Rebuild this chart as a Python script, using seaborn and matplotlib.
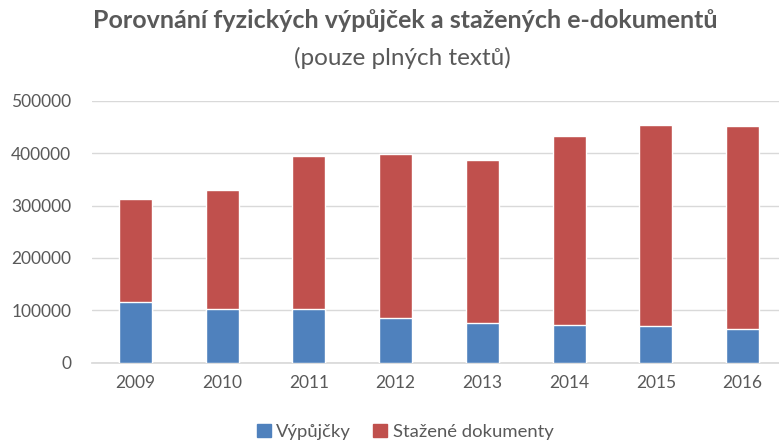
import matplotlib
matplotlib.use('Agg')
import matplotlib.pyplot as plt
import seaborn as sns
import pandas as pd
from matplotlib.patches import Patch

# Data
years = ['2009', '2010', '2011', '2012', '2013', '2014', '2015', '2016']
vypujcky = [115000, 102000, 102000, 86000, 76000, 72500, 69500, 64000]
stazene = [198000, 228000, 292000, 312000, 311000, 360500, 383500, 388000]
y_ticks = [0, 100000, 200000, 300000, 400000, 500000]

blue = '#4F81BD'
red = '#C0504D'
text_gray = '#595959'

df = pd.DataFrame({'rok': years, 'Výpůjčky': vypujcky, 'Stažené dokumenty': stazene})
df['celkem'] = df['Výpůjčky'] + df['Stažené dokumenty']

sns.set_theme(style='white')
plt.rcParams['font.family'] = ['Lato', 'DejaVu Sans']

fig = plt.figure(figsize=(7.79, 4.43), dpi=100)
ax = fig.add_axes([92 / 779, 1 - 362.7 / 443, 1 - 92 / 779, (362.7 - 100.7) / 443])

# stacked bars: total in red, then the blue part over it
sns.barplot(data=df, x='rok', y='celkem', color=red, width=0.38, saturation=1, ax=ax, zorder=3)
sns.barplot(data=df, x='rok', y='Výpůjčky', color=blue, width=0.38, saturation=1, ax=ax, zorder=4)

ax.set_ylim(0, 500000)
ax.set_xlim(-0.5, 7.42)
ax.set_yticks(y_ticks)
ax.set_yticklabels([str(t) for t in y_ticks])
ax.grid(axis='y', color='#D9D9D9', linewidth=1, zorder=0)
ax.set_axisbelow(True)
for s in ['top', 'right', 'left']:
    ax.spines[s].set_visible(False)
ax.spines['bottom'].set_color('#D9D9D9')
ax.tick_params(axis='both', length=0, labelsize=12.5, colors=text_gray)
ax.tick_params(axis='y', pad=15)
ax.tick_params(axis='x', pad=9)
ax.set_xlabel('')
ax.set_ylabel('')

fig.text(0.52, 1 - 20 / 443, 'Porovnání fyzických výpůjček a stažených e-dokumentů',
         ha='center', va='center', fontsize=18, fontweight='bold', color=text_gray)
fig.text(0.516, 1 - 58 / 443, '(pouze plných textů)',
         ha='center', va='center', fontsize=17.5, color=text_gray)

handles = [Patch(color=blue, label='Výpůjčky'), Patch(color=red, label='Stažené dokumenty')]
fig.legend(handles=handles, loc='center', bbox_to_anchor=(0.52, 1 - 432 / 443), ncol=2,
           frameon=False, fontsize=13.3, labelcolor=text_gray, handlelength=0.75,
           handleheight=0.75, handletextpad=0.3, columnspacing=1.2)

fig.savefig('out.png', dpi=100)
